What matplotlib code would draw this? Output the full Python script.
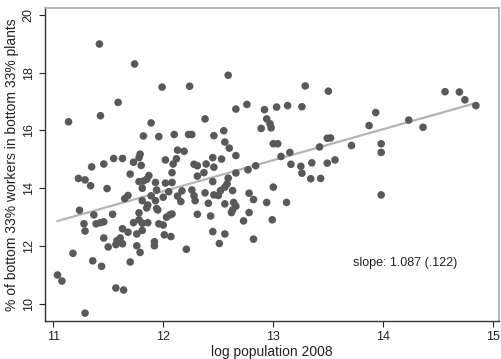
import matplotlib.pyplot as plt
import numpy as np

# log population 2008
log_pop = np.array([
    11.42, 11.74, 11.99, 12.24, 11.59, 11.43, 11.14, 11.89, 11.82, 11.96,
    12.10, 12.23, 12.26, 12.13, 12.19, 11.79, 11.78, 11.55, 11.63, 11.46,
    11.35, 11.73, 11.80, 12.02, 12.12, 12.09, 12.28, 12.08, 11.70, 11.87,
    12.31, 11.23, 11.29, 11.34, 11.49, 11.78, 11.82, 11.85, 11.93, 12.02,
    12.08, 11.81, 11.94, 12.17, 12.26, 12.28, 12.05, 11.68, 11.65, 12.00,
    11.89, 11.81, 11.86, 11.93, 12.13, 12.16, 12.29, 11.94, 11.85, 11.24,
    11.37, 11.54, 11.78, 12.06, 12.31, 11.28, 11.29, 11.39, 11.43, 11.46,
    11.63, 11.68, 11.73, 11.78, 11.81, 11.86, 11.81, 11.76, 11.95, 11.96,
    12.00, 12.03, 12.08, 12.01, 12.07, 11.92, 11.92, 11.46, 11.58, 11.61,
    11.57, 11.63, 11.50, 11.76, 11.79, 11.18, 12.21, 11.36, 11.44, 11.70,
    11.04, 11.08, 11.57, 11.64, 11.29, 12.59, 13.29, 13.50, 12.66, 12.76,
    12.92, 13.03, 13.13, 13.26, 12.38, 12.94, 12.97, 12.89, 12.98, 12.46,
    12.55, 12.56, 12.60, 12.66, 13.00, 13.04, 13.42, 13.49, 13.52, 13.71,
    13.15, 13.07, 13.16, 13.25, 13.26, 13.35, 13.49, 13.56, 13.34, 13.43,
    12.31, 12.39, 12.45, 12.53, 12.46, 12.37, 12.66, 12.77, 12.84, 12.45,
    12.59, 12.58, 12.56, 12.63, 12.52, 12.50, 12.46, 12.38, 12.78, 12.82,
    13.00, 12.94, 13.12, 12.64, 12.66, 12.63, 12.56, 12.41, 12.43, 12.78,
    12.99, 12.73, 12.62, 12.45, 12.56, 12.51, 12.82, 13.93, 14.56, 14.69,
    14.74, 14.84, 14.23, 13.87, 14.36, 13.98, 13.98, 13.98,
])

# % of bottom 33% workers in bottom 33% plants
share_bottom = np.array([
    18.99, 18.30, 17.50, 17.53, 16.97, 16.51, 16.30, 16.26, 15.81, 15.79,
    15.86, 15.86, 15.86, 15.32, 15.28, 15.18, 15.06, 15.03, 15.03, 14.84,
    14.74, 14.90, 14.79, 14.98, 15.02, 14.84, 14.83, 14.54, 14.49, 14.44,
    14.42, 14.34, 14.29, 14.09, 13.99, 14.23, 14.25, 14.31, 14.20, 14.18,
    14.20, 14.00, 13.94, 13.91, 13.94, 13.74, 13.88, 13.75, 13.64, 13.69,
    13.74, 13.57, 13.42, 13.57, 13.73, 13.54, 13.57, 13.30, 13.32, 13.24,
    13.08, 13.10, 13.15, 13.08, 13.10, 12.77, 12.52, 12.77, 12.81, 12.84,
    12.60, 12.48, 12.81, 12.91, 12.79, 12.81, 12.54, 12.42, 13.25, 12.77,
    12.73, 13.00, 13.11, 12.39, 12.33, 12.15, 12.01, 12.28, 12.19, 12.28,
    12.05, 12.08, 11.97, 12.01, 11.78, 11.75, 11.89, 11.49, 11.30, 11.45,
    11.00, 10.79, 10.55, 10.48, 9.68, 17.91, 17.54, 17.36, 16.74, 16.90,
    16.72, 16.81, 16.86, 16.82, 16.40, 16.40, 16.23, 16.07, 16.09, 15.82,
    15.99, 15.60, 15.39, 15.13, 15.54, 15.54, 15.43, 15.73, 15.74, 15.48,
    15.24, 15.10, 14.83, 14.76, 14.52, 14.88, 14.87, 14.98, 14.33, 14.34,
    14.78, 14.84, 15.06, 15.01, 14.73, 14.54, 14.53, 14.64, 14.78, 14.23,
    14.35, 14.15, 14.04, 13.92, 13.92, 13.75, 13.77, 13.84, 13.83, 13.61,
    14.04, 13.51, 13.51, 13.51, 13.38, 13.25, 13.46, 13.48, 13.04, 13.16,
    12.91, 12.87, 13.16, 12.50, 12.42, 12.09, 12.24, 16.62, 17.34, 17.33,
    17.06, 16.86, 16.36, 16.17, 16.11, 15.54, 15.24, 13.77,
])

slope_text = 'slope: 1.087 (.122)'
x_ticks = [11, 12, 13, 14, 15]
y_ticks = [10, 12, 14, 16, 18, 20]

plt.rcParams['font.family'] = ['Liberation Sans', 'DejaVu Sans']

fig = plt.figure(figsize=(5.01, 3.59), dpi=100)
ax = fig.add_axes([0.09, 0.106, 0.906, 0.872])

ax.scatter(log_pop, share_bottom, s=30, color='#595959', edgecolors='none', zorder=3)

# fitted line
b, a = np.polyfit(log_pop, share_bottom, 1)
xs = np.array([log_pop.min(), log_pop.max()])
ax.plot(xs, a + b * xs, color='#b4b4b4', lw=1.6, zorder=2)

ax.text(13.72, 11.42, slope_text, fontsize=9, ha='left', va='center', color='#222222')

ax.set_xlim(10.927, 15.05)
ax.set_ylim(9.41, 20.24)
ax.set_xticks(x_ticks)
ax.set_yticks(y_ticks)
ax.tick_params(axis='both', direction='out', length=4, width=0.8, labelsize=9,
               colors='#222222')
plt.setp(ax.get_yticklabels(), rotation=90, va='center')

for side in ['left', 'bottom']:
    ax.spines[side].set_color('#333333')
    ax.spines[side].set_linewidth(1.0)
for side in ['top', 'right']:
    ax.spines[side].set_color('#aaaaaa')
    ax.spines[side].set_linewidth(1.2)

ax.set_xlabel('log population 2008', fontsize=10, labelpad=1, color='#222222')
ax.set_ylabel('% of bottom 33% workers in bottom 33% plants', fontsize=10,
              labelpad=3, color='#222222')

fig.savefig('out.png', dpi=100)
